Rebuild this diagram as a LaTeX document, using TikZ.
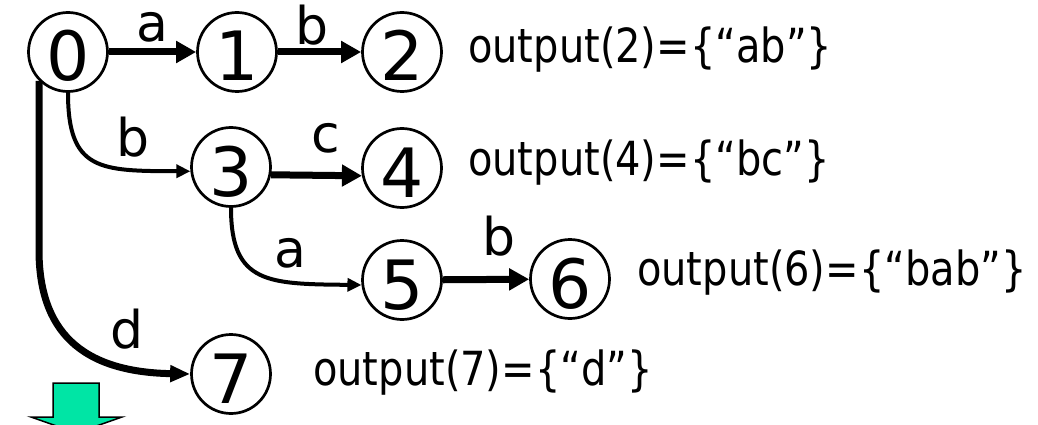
\documentclass[tikz,border=0pt]{standalone}
\usepackage{fontspec}
\setmainfont{DejaVu Sans}
\usetikzlibrary{arrows.meta}
\definecolor{arrowgreen}{RGB}{0,229,165}
\begin{document}
\begin{tikzpicture}[x=1pt,y=-1pt,
  state/.style={circle,draw,line width=2.7pt,minimum size=79pt,inner sep=0pt,
    font=\fontsize{68}{70}\selectfont,text height=58pt,text depth=0pt},
  lbl/.style={anchor=base,inner sep=0pt,font=\fontsize{52}{54}\selectfont},
  outtxt/.style={anchor=base west,inner sep=0pt,font=\fontsize{47}{49}\selectfont},
  thickedge/.style={line width=7pt,-{Triangle[length=20pt,width=21pt]}},
  thinedge/.style={line width=4pt,-{Triangle[length=14pt,width=13pt]}},
  longedge/.style={line width=7pt,-{Triangle[length=20pt,width=16pt]}},
  bigarrow/.style={fill=arrowgreen,draw=black,line width=1.5pt,line join=miter}
]
\clip (0,0) rectangle (1038,425);
\fill[white] (0,0) rectangle (1038,425);

% states
\node[state] (n0) at (68,52) {0};
\node[state] (n1) at (237,52) {1};
\node[state] (n2) at (402,52) {2};
\node[state] (n3) at (231,167) {3};
\node[state] (n4) at (402,168) {4};
\node[state] (n5) at (402,280) {5};
\node[state] (n6) at (570,279) {6};
\node[state] (n7) at (231,374) {7};

% edges
\draw[thickedge] (n0) -- (n1);
\draw[thickedge] (n1) -- (n2);
\draw[thickedge] (n3.-11) -- (n4.191);
\draw[thickedge] (n5) -- (n6);
\draw[thinedge] (n0.south) .. controls (68,171) and (100,171) .. (n3.186);
\draw[thinedge] (n3.south) .. controls (231,284) and (268,284) .. (n5.187);
\draw[longedge] (n0.225) -- (39,250) .. controls (39,330) and (80,372) .. (n7.west);

% edge labels
\node[lbl] (la1) at (152,42) {a};
\node[lbl] (lb1) at (312,45) {b};
\node[lbl] (lb2) at (133,157) {b};
\node[lbl] (lc1) at (326,152) {c};
\node[lbl] (la2) at (290,267) {a};
\node[lbl] (lb3) at (499,255) {b};
\node[lbl] (ld1) at (127,348) {d};

% outputs
\node[outtxt] (o2) at (468,63) {\scalebox{0.85}[1]{output(2)=\{“ab”\}}};
\node[outtxt] (o4) at (468,175) {\scalebox{0.85}[1]{output(4)=\{“bc”\}}};
\node[outtxt] (o6) at (637,285) {\scalebox{0.85}[1]{output(6)=\{“bab”\}}};
\node[outtxt] (o7) at (313,385) {\scalebox{0.85}[1]{output(7)=\{“d”\}}};

% green down arrow
\draw[bigarrow] (53,383) -- (99,383) -- (99,417) -- (122,417) -- (76.5,433)
  -- (31,417) -- (53,417) -- cycle;
\end{tikzpicture}
\end{document}
